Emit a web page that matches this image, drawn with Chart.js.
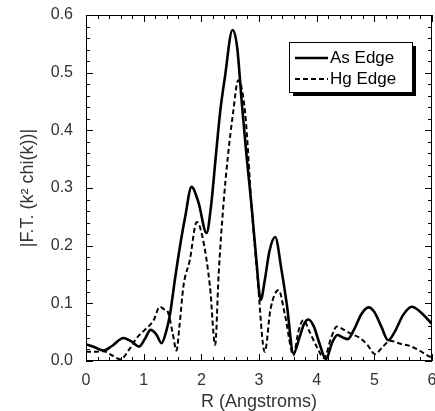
<!DOCTYPE html>
<html>
<head>
<meta charset="utf-8">
<script src="https://cdn.jsdelivr.net/npm/chart.js@4"></script>
<style>
  body { margin: 0; background: #fff; }
  #wrap { width: 435px; height: 411px; }
</style>
</head>
<body>
<div id="wrap"><canvas id="my-chart" width="435" height="411"></canvas></div>
<script>
// As Edge (solid)
const asR = [0, 0.15, 0.3, 0.45, 0.65, 0.8, 0.92, 1.02, 1.12, 1.22, 1.31, 1.4, 1.46, 1.54, 1.64, 1.72, 1.83, 1.95, 2.09, 2.17, 2.25, 2.33, 2.41, 2.54, 2.62, 2.7, 2.78, 2.87, 2.95, 3.03, 3.1, 3.18, 3.28, 3.39, 3.48, 3.6, 3.7, 3.78, 3.86, 3.95, 4.05, 4.16, 4.27, 4.36, 4.45, 4.54, 4.65, 4.78, 4.9, 5.0, 5.12, 5.24, 5.35, 5.5, 5.65, 5.8, 5.9, 6.0];
const asEdge = [0.029, 0.024, 0.018, 0.026, 0.040, 0.033, 0.025, 0.038, 0.054, 0.046, 0.031, 0.055, 0.083, 0.14, 0.205, 0.25, 0.302, 0.275, 0.222, 0.27, 0.354, 0.435, 0.493, 0.574, 0.545, 0.45, 0.36, 0.27, 0.18, 0.106, 0.14, 0.19, 0.215, 0.158, 0.1, 0.013, 0.04, 0.064, 0.072, 0.06, 0.03, 0.003, 0.032, 0.045, 0.041, 0.038, 0.055, 0.082, 0.093, 0.085, 0.06, 0.036, 0.05, 0.08, 0.094, 0.085, 0.075, 0.064];

// Hg Edge (dashed)
const hgR = [0, 0.15, 0.3, 0.45, 0.6, 0.75, 0.88, 1.02, 1.17, 1.28, 1.35, 1.42, 1.5, 1.57, 1.62, 1.69, 1.8, 1.92, 2.02, 2.15, 2.24, 2.3, 2.38, 2.46, 2.55, 2.64, 2.76, 2.87, 2.97, 3.1, 3.2, 3.34, 3.45, 3.6, 3.68, 3.77, 3.88, 4.0, 4.13, 4.25, 4.35, 4.46, 4.6, 4.75, 4.88, 5.01, 5.15, 5.27, 5.45, 5.62, 5.8, 5.93, 6.0];
const hgEdge = [0.016, 0.016, 0.017, 0.01, 0.003, 0.02, 0.04, 0.054, 0.07, 0.094, 0.09, 0.085, 0.05, 0.018, 0.06, 0.13, 0.175, 0.241, 0.215, 0.129, 0.028, 0.15, 0.267, 0.354, 0.43, 0.487, 0.43, 0.27, 0.15, 0.016, 0.09, 0.123, 0.08, 0.01, 0.05, 0.071, 0.05, 0.025, 0.005, 0.04, 0.06, 0.055, 0.047, 0.04, 0.028, 0.012, 0.025, 0.035, 0.03, 0.026, 0.017, 0.009, 0.006];

const xTicks = [0, 1, 2, 3, 4, 5, 6];
const yTicks = [0, 0.1, 0.2, 0.3, 0.4, 0.5, 0.6];

const FONT = "'Liberation Sans', Arial, Helvetica, sans-serif";

function toPoints(xs, ys) {
    return xs.map((x, i) => ({ x: x, y: ys[i] }));
}

// box, inward ticks on all four sides, and the legend
const frame = {
    id: "frame",
    afterDraw(chart) {
        const ctx = chart.ctx;
        const a = chart.chartArea;
        const xs = chart.scales.x;
        const ys = chart.scales.y;
        ctx.save();
        ctx.strokeStyle = "#000";
        ctx.lineWidth = 1;
        ctx.strokeRect(a.left + 0.5, a.top + 0.5, a.right - a.left - 1, a.bottom - a.top - 1);
        ctx.beginPath();
        for (let i = 0; i <= 30; i++) {
            const px = Math.round(xs.getPixelForValue(i * 0.2)) + 0.5;
            const len = i % 5 === 0 ? 7 : 4;
            ctx.moveTo(px, a.bottom);
            ctx.lineTo(px, a.bottom - len);
            ctx.moveTo(px, a.top);
            ctx.lineTo(px, a.top + len);
        }
        for (let i = 0; i <= 30; i++) {
            const py = Math.round(ys.getPixelForValue(i * 0.02)) + 0.5;
            const len = i % 5 === 0 ? 7 : 4;
            ctx.moveTo(a.left, py);
            ctx.lineTo(a.left + len, py);
            ctx.moveTo(a.right, py);
            ctx.lineTo(a.right - len, py);
        }
        ctx.stroke();

        // legend box with shadow
        const bx = a.right - 143, by = a.top + 27, bw = 123, bh = 50;
        ctx.fillStyle = "#000";
        ctx.fillRect(bx + 4, by + 4, bw, bh);
        ctx.fillStyle = "#fff";
        ctx.fillRect(bx, by, bw, bh);
        ctx.strokeRect(bx + 0.5, by + 0.5, bw, bh);
        ctx.font = "17px " + FONT;
        ctx.textBaseline = "middle";
        chart.data.datasets.forEach((ds, i) => {
            const ly = by + 16 + i * 21;
            ctx.beginPath();
            ctx.lineWidth = ds.borderWidth;
            ctx.setLineDash(ds.borderDash || []);
            ctx.moveTo(bx + 6, ly);
            ctx.lineTo(bx + 39, ly);
            ctx.stroke();
            ctx.setLineDash([]);
            ctx.fillStyle = "#000";
            ctx.fillText(ds.label, bx + 41, ly);
        });
        ctx.restore();
    },
};

const context = document.getElementById("my-chart");

const config = {
    type: "line",
    data: {
        datasets: [
            {
                label: "As Edge",
                data: toPoints(asR, asEdge),
                borderColor: "#000",
                borderWidth: 2.6,
                pointRadius: 0,
                cubicInterpolationMode: "monotone",
                fill: false,
            },
            {
                label: "Hg Edge",
                data: toPoints(hgR, hgEdge),
                borderColor: "#000",
                borderWidth: 2,
                borderDash: [5, 3],
                pointRadius: 0,
                cubicInterpolationMode: "monotone",
                fill: false,
            },
        ],
    },
    options: {
        responsive: false,
        animation: false,
        layout: { padding: { top: 15, right: 3, bottom: 0, left: 0 } },
        plugins: {
            legend: { display: false },
            tooltip: { enabled: false },
        },
        scales: {
            x: {
                type: "linear",
                min: 0,
                max: 6,
                afterBuildTicks: (s) => { s.ticks = xTicks.map((v) => ({ value: v })); },
                afterFit: (s) => {
                    s.height = 50;
                    s.paddingLeft = 0;
                    s.paddingRight = 0;
                },
                grid: { drawOnChartArea: false, drawTicks: false },
                border: { display: false },
                ticks: {
                    color: "#333",
                    padding: 10,
                    maxRotation: 0,
                    font: { family: FONT, size: 16 },
                    callback: (v) => String(v),
                },
                title: {
                    display: true,
                    text: "R (Angstroms)",
                    color: "#333",
                    font: { family: FONT, size: 18 },
                    padding: { top: 0, bottom: -2 },
                },
            },
            y: {
                type: "linear",
                min: 0,
                max: 0.6,
                afterBuildTicks: (s) => { s.ticks = yTicks.map((v) => ({ value: v })); },
                afterFit: (s) => {
                    s.width = 86;
                    s.paddingTop = 0;
                    s.paddingBottom = 0;
                },
                grid: { drawOnChartArea: false, drawTicks: false },
                border: { display: false },
                ticks: {
                    color: "#333",
                    padding: 13,
                    font: { family: FONT, size: 16 },
                    callback: (v) => v.toFixed(1),
                },
                title: {
                    display: true,
                    text: "|F.T. (k² chi(k))|",
                    color: "#333",
                    font: { family: FONT, size: 18 },
                    padding: { top: 17, bottom: 0 },
                },
            },
        },
    },
    plugins: [frame],
};

const myChart = new Chart(context, config);
</script>
</body>
</html>
